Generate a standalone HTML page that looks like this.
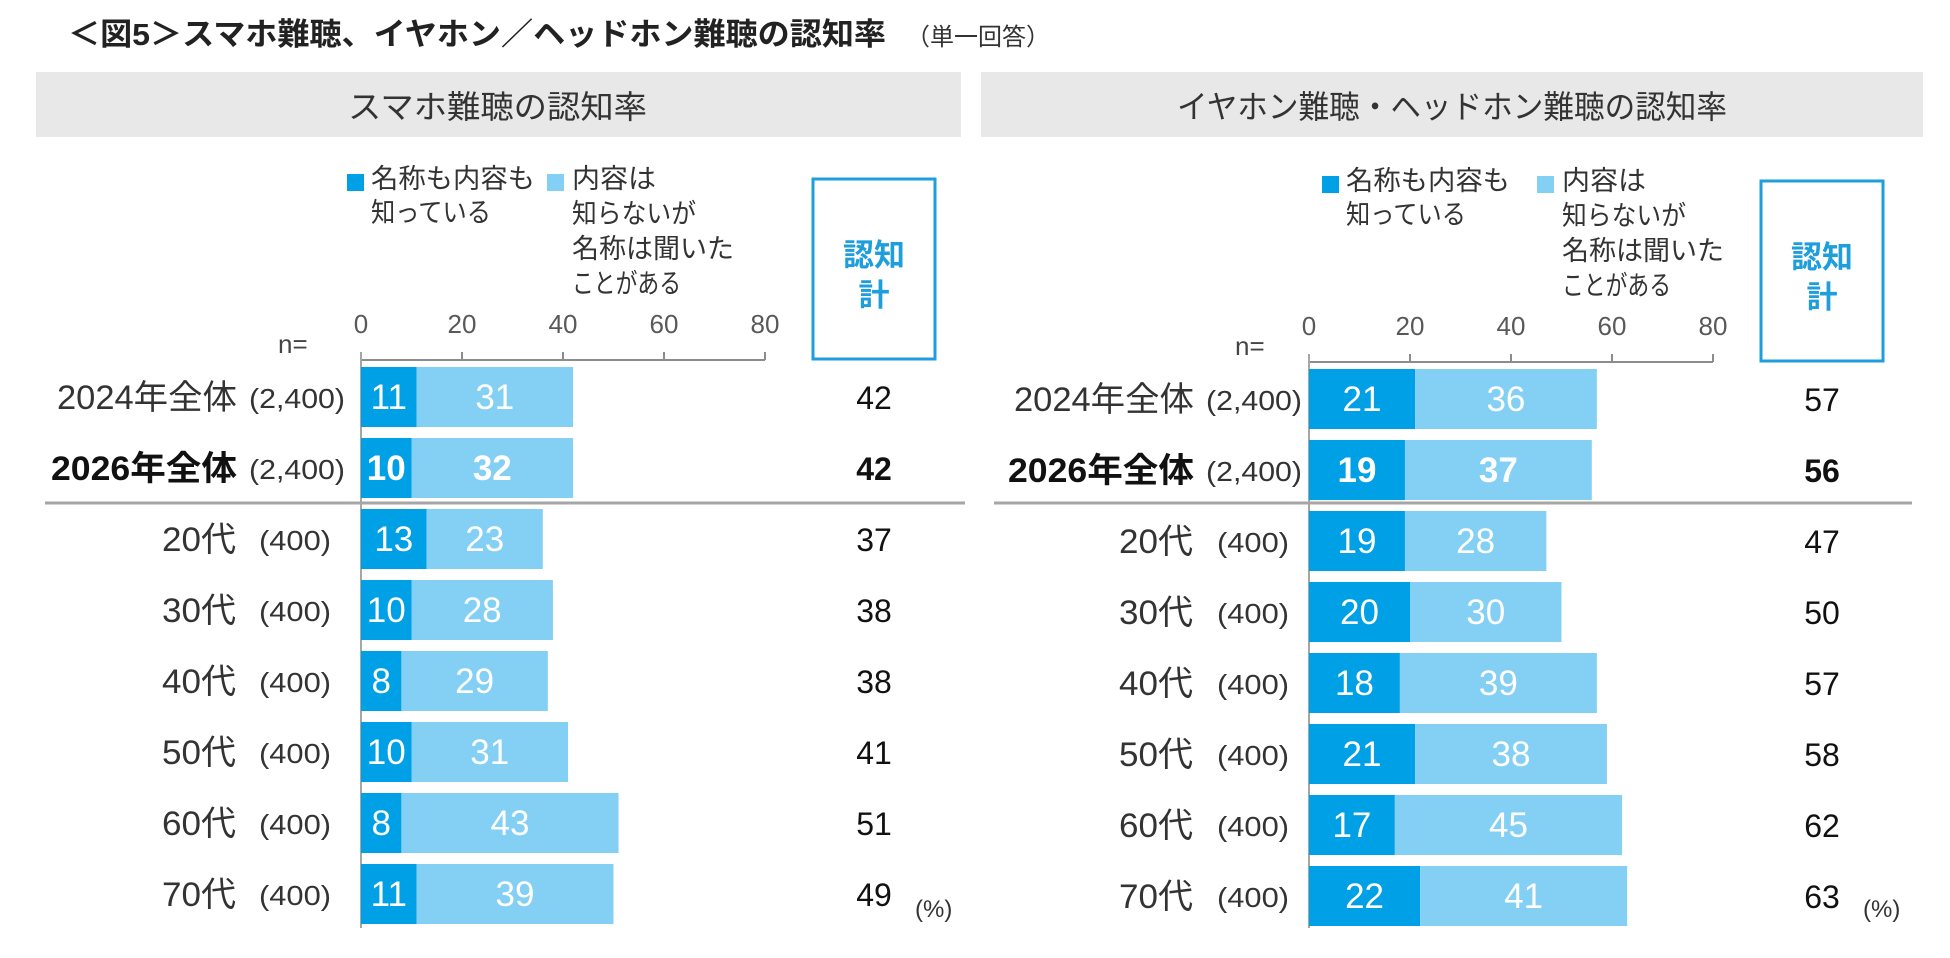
<!DOCTYPE html>
<html lang="ja">
<head>
<meta charset="utf-8">
<style>
html,body{margin:0;padding:0;background:#fff;}
svg{display:block;font-family:"Liberation Sans","Noto Sans CJK JP",sans-serif;}
</style>
</head>
<body>
<svg id="chart" width="1950" height="958" viewBox="0 0 1950 958" xmlns="http://www.w3.org/2000/svg">
  <text x="68" y="45" font-size="31" font-weight="bold" fill="#222" textLength="818" lengthAdjust="spacingAndGlyphs">＜図5＞スマホ難聴、イヤホン／ヘッドホン難聴の認知率</text>
  <text x="906" y="45" font-size="24" fill="#333" textLength="144" lengthAdjust="spacingAndGlyphs">（単一回答）</text>
</svg>
<script>
const categories = ["2024年全体","2026年全体","20代","30代","40代","50代","60代","70代"];
const sampleSizes = ["(2,400)","(2,400)","(400)","(400)","(400)","(400)","(400)","(400)"];
const smaKnow  = [11,10,13,10,8,10,8,11];
const smaHeard = [31,32,23,28,29,31,43,39];
const smaTotal = [42,42,37,38,38,41,51,49];
const earKnow  = [21,19,19,20,18,21,17,22];
const earHeard = [36,37,28,30,39,38,45,41];
const earTotal = [57,56,47,50,57,58,62,63];
const tickValues = [0,20,40,60,80];

const NS = "http://www.w3.org/2000/svg";
const svg = document.getElementById("chart");
const DARK = "#00a0e6", LIGHT = "#84d0f4", TXT = "#333", BLUE = "#1e9fdc";

function mk(tag, attrs, parent) {
  const el = document.createElementNS(NS, tag);
  for (const k in attrs) el.setAttribute(k, attrs[k]);
  (parent || svg).appendChild(el);
  return el;
}
function txt(x, y, s, size, opts, parent) {
  opts = opts || {};
  const a = {x: x, y: y, "font-size": size, fill: opts.fill || TXT};
  if (opts.anchor) a["text-anchor"] = opts.anchor;
  if (opts.bold) a["font-weight"] = "bold";
  if (opts.len) { a.textLength = opts.len; a.lengthAdjust = "spacingAndGlyphs"; }
  const el = mk("text", a, parent);
  el.textContent = s;
  return el;
}

function panel(cfg) {
  const g = mk("g", {});
  
  
  const x0 = cfg.x0, dy = cfg.dy;
  const sx = v => x0 + v * 5.05;
  const rowTop = i => 367 + dy + 71 * i;
  const BH = 60;

  const hb = mk("rect", {x: cfg.hx, y: 72, width: cfg.hw, height: 65, fill: "#e8e8e8"}, g);
  
  
  const ht = txt(cfg.htx, 118, cfg.title, 32, {len: cfg.htw}, g);
  
  

  const s1 = mk("rect", {x: cfg.l1, y: 174 + dy, width: 17, height: 17, fill: DARK}, g);
  
  
  const la = txt(cfg.l1 + 24, 188 + dy, "名称も内容も", 27, {len: 164}, g);
  
  
  const lb = txt(cfg.l1 + 24, 222 + dy, "知っている", 27, {len: 120}, g);
  
  
  const s2 = mk("rect", {x: cfg.l2, y: 174 + dy, width: 17, height: 17, fill: LIGHT}, g);
  
  
  const lines2 = ["内容は","知らないが","名称は聞いた","ことがある"];
  const lens2 = [84,124,162,109];
  lines2.forEach((s, k) => {
    const t = txt(cfg.l2 + 25, 188 + dy + 35 * k, s, 27, {len: lens2[k]}, g);
    
    
  });

  const bx = mk("rect", {x: cfg.bx, y: 181 + dy - 2, width: 122, height: 180, fill: "none", stroke: BLUE, "stroke-width": 3}, g);
  
  
  const b1 = txt(cfg.bx + 61, 266 + dy, "認知", 31, {anchor: "middle", bold: true, fill: BLUE}, g);
  
  
  const b2 = txt(cfg.bx + 61, 306 + dy, "計", 31, {anchor: "middle", bold: true, fill: BLUE}, g);
  
  

  tickValues.forEach(v => {
    const tl = txt(sx(v), 333 + dy, String(v), 26, {anchor: "middle", fill: "#595959"}, g);
    
    
    const tk = mk("line", {x1: sx(v), x2: sx(v), y1: 352 + dy, y2: 360 + dy, stroke: "#8c8c8c", "stroke-width": 2}, g);
    
    
  });
  const ax = mk("line", {x1: x0, x2: sx(80), y1: 360 + dy, y2: 360 + dy, stroke: "#8c8c8c", "stroke-width": 2}, g);
  
  
  const ay = mk("line", {x1: x0, x2: x0, y1: 352 + dy, y2: 928, stroke: "#a6a6a6", "stroke-width": 2}, g);
  
  
  const nn = txt(cfg.nx, 353 + dy, "n=", 26, {fill: "#444"}, g);
  
  

  const sp = mk("line", {x1: cfg.sepx1, x2: cfg.sepx2, y1: 503, y2: 503, stroke: "#a6a6a6", "stroke-width": 3}, g);
  
  

  categories.forEach((c, i) => {
    const top = rowTop(i), mid = top + BH / 2;
    const k = cfg.know[i], h = cfg.heard[i];
    const r1 = mk("rect", {x: sx(0), y: top, width: sx(k) - sx(0), height: BH, fill: DARK}, g);
    
    
    const r2 = mk("rect", {x: sx(k), y: top, width: sx(k + h) - sx(k), height: BH, fill: LIGHT}, g);
    
    
    const bold = i === 1;
    const v1 = txt((sx(0) + sx(k)) / 2, mid + 12, String(k), 35, {anchor: "middle", fill: "#fff", bold: bold}, g);
    
    
    const v2 = txt((sx(k) + sx(k + h)) / 2, mid + 12, String(h), 35, {anchor: "middle", fill: "#fff", bold: bold}, g);
    
    
    const tt = txt(cfg.tx, mid + 12, String(cfg.total[i]), 32, {anchor: "middle", fill: "#111", bold: bold}, g);
    
    
    let cl;
    if (i < 2) {
      cl = txt(cfg.catEnd, mid + 12, c, 34, {anchor: "end", bold: bold, fill: bold ? "#111" : TXT, len: bold ? 186 : 180}, g);
    } else {
      cl = txt(cfg.ageEnd, mid + 12, c, 34, {anchor: "end", len: 74}, g);
    }
    
    
    const nl = txt(i < 2 ? cfg.nEnd1 : cfg.nEnd2, mid + 11, sampleSizes[i], 28, {anchor: "end", len: i < 2 ? 96 : 72}, g);
    
    
  });
  const pc = txt(cfg.px, 917, "(%)", 24, {}, g);
  
  
}

panel({name: "smartphone-panel", x0: 361, dy: 0, hx: 36, hw: 925, htx: 348, htw: 299, title: "スマホ難聴の認知率",
  l1: 347, l2: 547, bx: 813, tx: 874, nx: 278, sepx1: 45, sepx2: 965,
  catEnd: 237, ageEnd: 236, nEnd1: 345, nEnd2: 331, px: 915,
  know: smaKnow, heard: smaHeard, total: smaTotal});
panel({name: "earphone-panel", x0: 1309, dy: 2, hx: 981, hw: 942, htx: 1177, htw: 550, title: "イヤホン難聴・ヘッドホン難聴の認知率",
  l1: 1322, l2: 1537, bx: 1761, tx: 1822, nx: 1235, sepx1: 994, sepx2: 1912,
  catEnd: 1194, ageEnd: 1193, nEnd1: 1302, nEnd2: 1289, px: 1863,
  know: earKnow, heard: earHeard, total: earTotal});
</script>
</body>
</html>
